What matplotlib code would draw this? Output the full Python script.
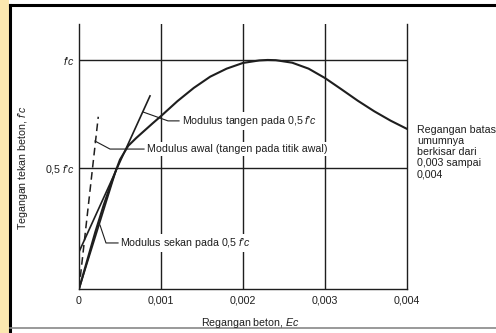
import matplotlib
matplotlib.use('Agg')
import matplotlib.pyplot as plt
from matplotlib.lines import Line2D
from matplotlib.patches import Rectangle

plt.rcParams['font.family'] = ['Liberation Sans', 'DejaVu Sans']
plt.rcParams['mathtext.fontset'] = 'custom'
plt.rcParams['mathtext.it'] = 'Liberation Sans:italic'
plt.rcParams['mathtext.rm'] = 'Liberation Sans'

# stress-strain curve (stress in units of f'c)
strain = [0, 0.0001, 0.0002, 0.0003, 0.0004, 0.0005, 0.0006, 0.0007, 0.0008,
          0.0009, 0.001, 0.0012, 0.0014, 0.0016, 0.0018, 0.002, 0.0022,
          0.0023, 0.0024, 0.0026, 0.0028, 0.003, 0.0032, 0.0034, 0.0036,
          0.0038, 0.004]
stress = [0, 0.125, 0.25, 0.365, 0.47, 0.565, 0.625, 0.66, 0.692,
          0.724, 0.755, 0.82, 0.878, 0.927, 0.962, 0.987, 0.998,
          1.0, 0.999, 0.988, 0.962, 0.921, 0.872, 0.822, 0.776,
          0.735, 0.699]

# straight modulus lines
initial_x = [0, 0.000235]
initial_y = [0, 0.752]
tangent_x = [0, 0.000866]
tangent_y = [0.162, 0.843]
secant_x = [0, 0.00046]
secant_y = [0, 0.528]

xticks = [0, 0.001, 0.002, 0.003, 0.004]
xlabels = ['0', '0,001', '0,002', '0,003', '0,004']
yticks = [0.528, 1.0]
fc = r"$f$'$c$"
ylabels = ['0,5 ' + fc, fc]

ink = '#1e1e1e'
fs = 7.7

fig = plt.figure(figsize=(4.96, 3.33), dpi=100)
fig.patch.set_facecolor('white')

# scan frame and the tinted strip on the left
fig.add_artist(Rectangle((0, 0), 9 / 496, 1, transform=fig.transFigure,
                         color='#fbe8b0', lw=0))
fig.add_artist(Line2D([10 / 496, 10 / 496], [0, 1 - 5 / 333],
                      transform=fig.transFigure, color='black', lw=2.2))
fig.add_artist(Line2D([10 / 496, 1], [1 - 5 / 333, 1 - 5 / 333],
                      transform=fig.transFigure, color='black', lw=2.2))
fig.add_artist(Line2D([10 / 496, 1], [1 - 328 / 333, 1 - 328 / 333],
                      transform=fig.transFigure, color='#888888', lw=1.2))

ax = fig.add_axes([79 / 496, 1 - 289 / 333, 328 / 496, 265 / 333])
ax.set_xlim(0, 0.004)
ax.set_ylim(0, 1.157)
ax.spines['top'].set_visible(False)
for s in ['left', 'right', 'bottom']:
    ax.spines[s].set_color(ink)
    ax.spines[s].set_linewidth(1.0)

for xv in xticks[1:-1]:
    ax.axvline(xv, color=ink, lw=1.0, zorder=1)
for yv in yticks:
    ax.axhline(yv, color=ink, lw=1.0, zorder=1)

ax.set_xticks(xticks)
ax.set_xticklabels(xlabels)
ax.set_yticks(yticks)
ax.set_yticklabels(ylabels)
ax.tick_params(length=0, labelsize=fs, colors=ink)
ax.tick_params(axis='x', pad=5)
ax.tick_params(axis='y', pad=3)

ax.plot(strain, stress, color=ink, lw=1.5, zorder=4)
ax.plot(initial_x, initial_y, color=ink, lw=1.1, ls=(0, (5, 3)), zorder=4)
ax.plot(tangent_x, tangent_y, color=ink, lw=1.2, zorder=4)
ax.plot(secant_x, secant_y, color=ink, lw=1.2, zorder=4)

box = dict(facecolor='white', edgecolor='none', pad=1.5)

# leaders and notes
ax.plot([0.00078, 0.001085, 0.00122], [0.773, 0.734, 0.734], color=ink, lw=0.8, zorder=5)
ax.text(0.00125, 0.734, 'Modulus tangen pada 0,5 ' + fc, fontsize=fs, color=ink,
        va='center', ha='left', bbox=box, zorder=3)

ax.plot([0.000195, 0.000378, 0.000793], [0.646, 0.611, 0.611], color=ink, lw=0.8, zorder=5)
ax.text(0.00083, 0.611, 'Modulus awal (tangen pada titik awal)', fontsize=fs, color=ink,
        va='center', ha='left', bbox=box, zorder=3)

ax.plot([0.000256, 0.000329, 0.000476], [0.279, 0.201, 0.201], color=ink, lw=0.8, zorder=5)
ax.text(0.0005, 0.201, 'Modulus sekan pada 0,5 ' + fc, fontsize=fs, color=ink,
        va='center', ha='left', bbox=box, zorder=3)

ax.text(0.00412, 0.715, 'Regangan batas\numumnya\nberkisar dari\n0,003 sampai\n0,004',
        fontsize=fs, color=ink, va='top', ha='left', linespacing=1.12, clip_on=False)

fig.text(23 / 496, 1 - 168 / 333, 'Tegangan tekan beton, ' + fc, rotation=90,
         fontsize=fs, color=ink, ha='center', va='center')
fig.text(250 / 496, 1 - 323 / 333, r"Regangan beton, $Ec$", fontsize=fs, color=ink,
         ha='center', va='center')

fig.savefig('out.png', dpi=100)
